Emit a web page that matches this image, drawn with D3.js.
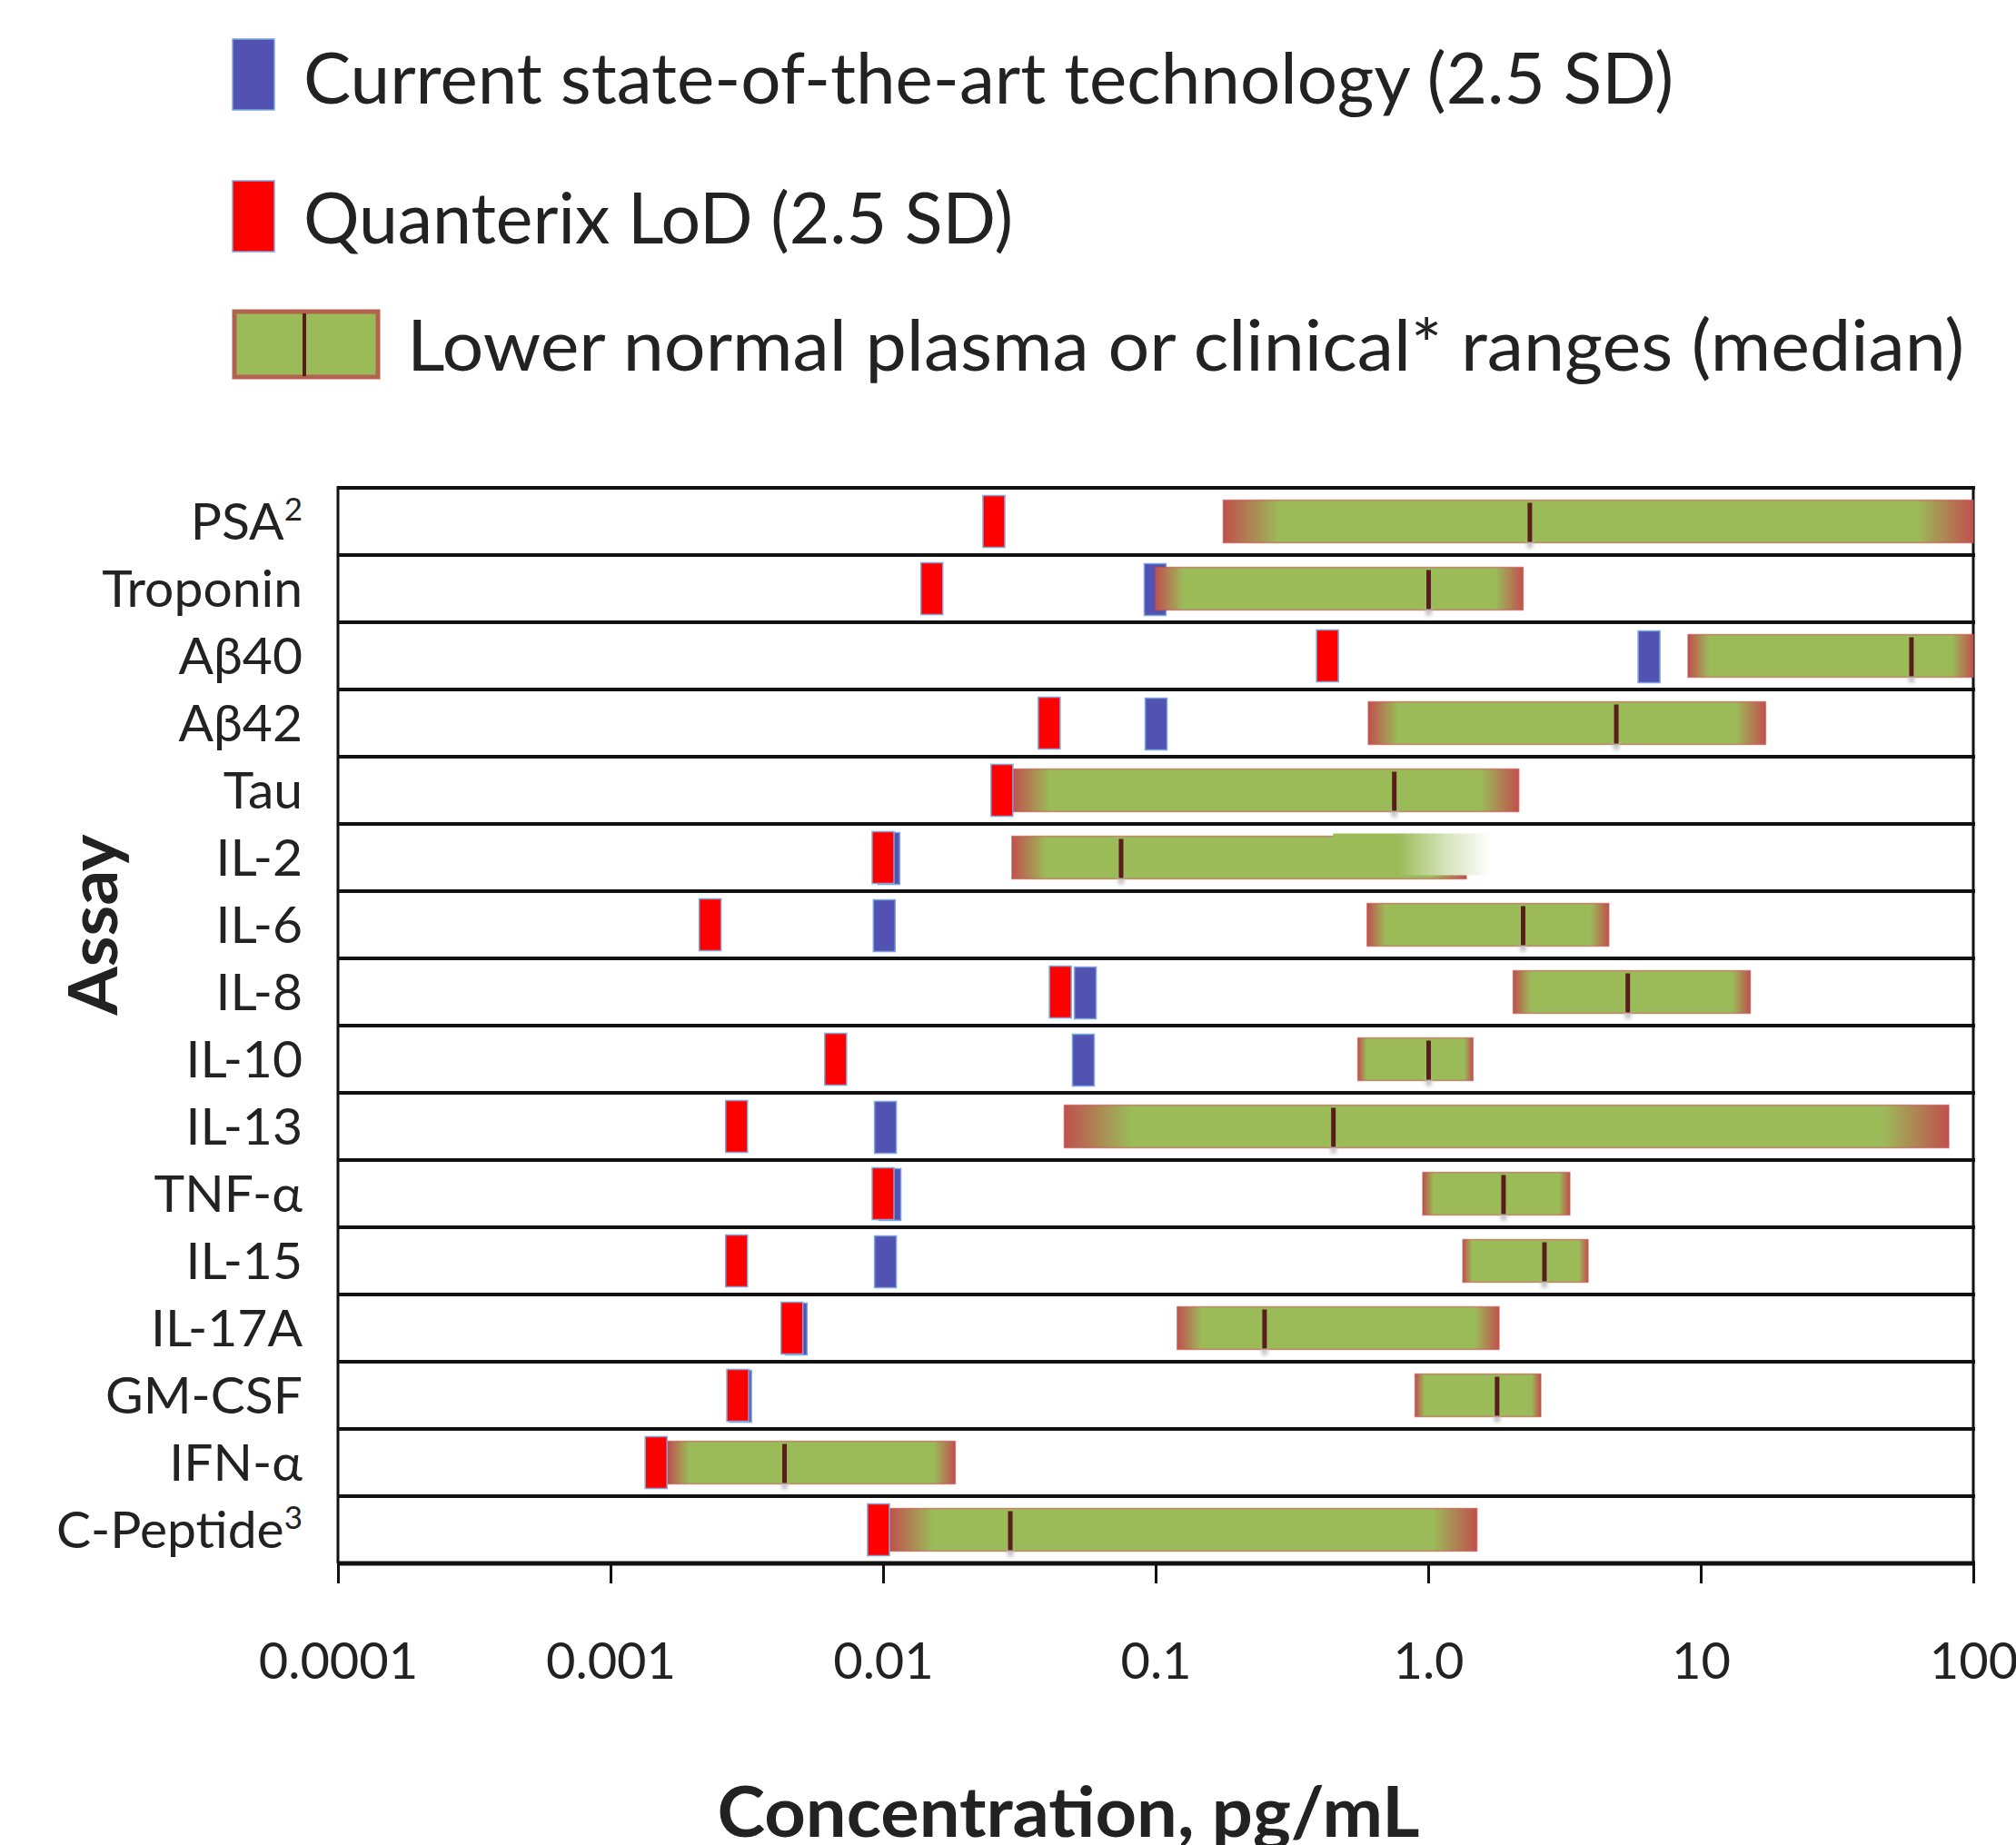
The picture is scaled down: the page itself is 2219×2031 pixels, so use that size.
<!DOCTYPE html>
<html>
<head>
<meta charset="utf-8">
<script src="https://cdn.jsdelivr.net/npm/d3@7"></script>
<style>
html,body{margin:0;padding:0;background:#fff;}
svg{display:block;}
text{font-family:Lato,"Open Sans","Noto Sans",sans-serif;fill:#222;}
</style>
</head>
<body>
<svg id="chart" width="2219" height="2031"></svg>
<script>
// ---------------- data ----------------
const assays = ["PSA","Troponin","A\u03B240","A\u03B242","Tau","IL-2","IL-6","IL-8","IL-10","IL-13","TNF-\u03B1","IL-15","IL-17A","GM-CSF","IFN-\u03B1","C-Peptide"];
const assaySup = ["2","","","","","","","","","","","","","","","3"];
// Current state-of-the-art technology LoD (pg/mL); null = not shown
const currentLoD = [null,0.0996,6.46,0.1004,null,0.0105,0.0101,0.0552,0.0543,0.0102,0.0106,0.0102,0.0048,0.0030,null,null];
// Quanterix LoD (pg/mL)
const quanterixLoD = [0.0255,0.0151,0.427,0.0407,0.0273,0.0100,0.00232,0.0447,0.0067,0.0029,0.0100,0.0029,0.00463,0.00293,0.00147,0.00962];
// Lower normal plasma / clinical ranges (pg/mL)
const rangeLow  = [0.177,0.100,8.98,0.603,0.0297,0.0297,0.597,2.05,0.552,0.0462,0.955,1.34,0.120,0.895,0.00162,0.0105];
const rangeHigh = [100,2.23,100,17.3,2.15,1.38,4.6,15.2,1.46,81.3,3.31,3.86,1.82,2.59,0.0184,1.51];
const rangeMedian = [2.36,1.004,59.3,4.9,0.751,0.0747,2.23,5.4,1.004,0.449,1.89,2.67,0.251,1.79,0.00435,0.0293];
// faded overlay visible on the IL-2 row in the original figure
const overlayAssay = "IL-2";
const overlayLow = 0.448, overlayHigh = 1.70;
// axis ticks
const tickValues = [0.0001,0.001,0.01,0.1,1,10,100];
const tickLabels = ["0.0001","0.001","0.01","0.1","1.0","10","100"];
const legendLabels = ["Current state-of-the-art technology (2.5 SD)","Quanterix LoD (2.5 SD)","Lower normal plasma or clinical* ranges (median)"];
const xTitle = "Concentration, pg/mL";
const yTitle = "Assay";

// ---------------- layout ----------------
const svg = d3.select("#chart");
const L = 372, R = 2172, T = 537, B = 1721;
const x = d3.scaleLog().domain([1e-4, 100]).range([L, R]);
const y = d3.scaleBand().domain(assays).range([T, B]).padding(0);
const bw = y.bandwidth();

const RED = "#ff0000", BLUE = "#5152b2", GREEN = "#9bbb59", EDGE = "#c0504d", MED = "#5a1c1c";

const defs = svg.append("defs");
const g1 = defs.append("linearGradient").attr("id","rangeGrad").attr("x1","0").attr("x2","1").attr("y1","0").attr("y2","0");
[[0,EDGE],[0.075,GREEN],[0.925,GREEN],[1,EDGE]].forEach(s=>g1.append("stop").attr("offset",s[0]).attr("stop-color",s[1]));
const g2 = defs.append("linearGradient").attr("id","fadeGrad").attr("x1","0").attr("x2","1").attr("y1","0").attr("y2","0");
[[0,GREEN],[0.41,GREEN],[0.7,"#d3e2b6"],[1,"#ffffff"]].forEach(s=>g2.append("stop").attr("offset",s[0]).attr("stop-color",s[1]));
const blur = defs.append("filter").attr("id","soft").attr("x","-50%").attr("y","-50%").attr("width","200%").attr("height","200%");
blur.append("feGaussianBlur").attr("stdDeviation",2);

// ---------------- row frame ----------------
const frame = svg.append("g");
const lines = d3.range(assays.length + 1).map(i => T + i * bw);
frame.selectAll("line.shadow").data(lines).join("line")
  .attr("x1", L).attr("x2", R).attr("y1", d => d + 4).attr("y2", d => d + 4)
  .attr("stroke", "#bbb").attr("stroke-width", 3).attr("filter","url(#soft)");
frame.selectAll("line.row").data(lines).join("line")
  .attr("x1", L - 1).attr("x2", R + 2).attr("y1", d => d).attr("y2", d => d)
  .attr("stroke", "#111").attr("stroke-width", (d,i) => i === assays.length ? 5 : 4);
frame.append("line").attr("x1", L).attr("x2", L).attr("y1", T - 2).attr("y2", B)
  .attr("stroke", "#111").attr("stroke-width", 3);
frame.append("line").attr("x1", R).attr("x2", R).attr("y1", T - 2).attr("y2", B)
  .attr("stroke", "#111").attr("stroke-width", 3);

// ---------------- marks ----------------
const rows = assays.map((a, i) => ({
  a, cur: currentLoD[i], q: quanterixLoD[i],
  lo: rangeLow[i], hi: rangeHigh[i], med: rangeMedian[i]
}));
const cy = d => y(d.a) + bw / 2;
const mW = 24, mH = 57, gH = 47;

// blue markers
svg.append("g").selectAll("rect").data(rows.filter(d => d.cur != null)).join("rect")
  .attr("x", d => x(d.cur) - mW / 2).attr("y", d => cy(d) - mH / 2 + 1)
  .attr("width", mW).attr("height", mH)
  .attr("fill", BLUE).attr("stroke", "#7fa6dc").attr("stroke-width", 1.5);

// green range bars
const rg = svg.append("g");
rg.selectAll("rect.range").data(rows).join("rect")
  .attr("x", d => x(d.lo)).attr("y", d => cy(d) - gH / 2)
  .attr("width", d => x(Math.min(d.hi, 100)) - x(d.lo)).attr("height", gH)
  .attr("fill", "url(#rangeGrad)").attr("stroke", EDGE).attr("stroke-width", 1.5).attr("stroke-opacity", 0.6);
// overlay on IL-2
const ov = rows.find(d => d.a === overlayAssay);
rg.append("rect")
  .attr("x", x(overlayLow)).attr("y", cy(ov) - gH / 2 - 3)
  .attr("width", x(overlayHigh) - x(overlayLow)).attr("height", gH - 1)
  .attr("fill", "url(#fadeGrad)");
// median shadows + lines
rg.selectAll("rect.mshadow").data(rows).join("rect")
  .attr("x", d => x(d.med) - 3).attr("y", d => cy(d) + gH / 2 - 2)
  .attr("width", 6).attr("height", 8).attr("fill", "#bbb").attr("filter","url(#soft)");
rg.selectAll("line.median").data(rows).join("line")
  .attr("x1", d => x(d.med)).attr("x2", d => x(d.med))
  .attr("y1", d => cy(d) - gH / 2 + 3).attr("y2", d => cy(d) + gH / 2 - 1)
  .attr("stroke", MED).attr("stroke-width", 5);

// red markers
svg.append("g").selectAll("rect").data(rows).join("rect")
  .attr("x", d => x(d.q) - mW / 2).attr("y", d => cy(d) - mH / 2)
  .attr("width", mW).attr("height", mH)
  .attr("fill", RED).attr("stroke", "#7fa6dc").attr("stroke-width", 1.5);

// ---------------- y labels ----------------
const yl = svg.append("g").selectAll("text").data(rows).join("text")
  .attr("x", 333).attr("y", d => cy(d) + 20)
  .attr("text-anchor", "end").attr("font-size", 57);
yl.append("tspan").text(d => d.a);
yl.filter((d, i) => assaySup[i]).append("tspan")
  .attr("font-size", 35).attr("dy", -21)
  .text(d => assaySup[assays.indexOf(d.a)]);

// ---------------- x axis ----------------
const ax = svg.append("g").attr("transform", `translate(0,${B})`)
  .call(d3.axisBottom(x).tickValues(tickValues).tickFormat((d, i) => tickLabels[i]).tickSize(22).tickSizeOuter(0));
ax.select(".domain").remove();
ax.selectAll(".tick line").attr("stroke", "#111").attr("stroke-width", 3);
ax.selectAll(".tick text").attr("y", 127).attr("dy", 0)
  .attr("font-size", 56).attr("fill", "#111")
  .style("font-family", "Lato, 'Open Sans', sans-serif");

// ---------------- titles ----------------
svg.append("text").attr("x", 1176).attr("y", 2022).attr("text-anchor", "middle")
  .attr("font-size", 77).attr("font-weight", 700).attr("fill", "#111")
  .attr("textLength", 773).attr("lengthAdjust", "spacingAndGlyphs").text(xTitle);
svg.append("text").attr("transform", "translate(129,1018) rotate(-90)").attr("text-anchor", "middle")
  .attr("font-size", 75).attr("font-weight", 700).attr("fill", "#222")
  .attr("textLength", 199).attr("lengthAdjust", "spacingAndGlyphs").text(yTitle);

// ---------------- legend ----------------
const lg = svg.append("g");
lg.append("rect").attr("x", 256).attr("y", 43).attr("width", 46).attr("height", 78)
  .attr("fill", BLUE).attr("stroke", "#7fa6dc").attr("stroke-width", 1.5);
lg.append("rect").attr("x", 256).attr("y", 199).attr("width", 46).attr("height", 78)
  .attr("fill", RED).attr("stroke", "#7fa6dc").attr("stroke-width", 1.5);
lg.append("rect").attr("x", 258).attr("y", 343).attr("width", 158).attr("height", 72)
  .attr("fill", GREEN).attr("stroke", "#b2634f").attr("stroke-width", 5);
lg.append("line").attr("x1", 335).attr("x2", 335).attr("y1", 345).attr("y2", 414)
  .attr("stroke", MED).attr("stroke-width", 4);
const legendPos = [[334, 114, 1508], [334, 268, 781], [448, 408, 1714]];
lg.selectAll("text").data(legendLabels).join("text")
  .attr("x", (d, i) => legendPos[i][0]).attr("y", (d, i) => legendPos[i][1])
  .attr("font-size", 78).attr("fill", "#222")
  .attr("textLength", (d, i) => legendPos[i][2]).attr("lengthAdjust", "spacingAndGlyphs")
  .text(d => d);
</script>
</body>
</html>
